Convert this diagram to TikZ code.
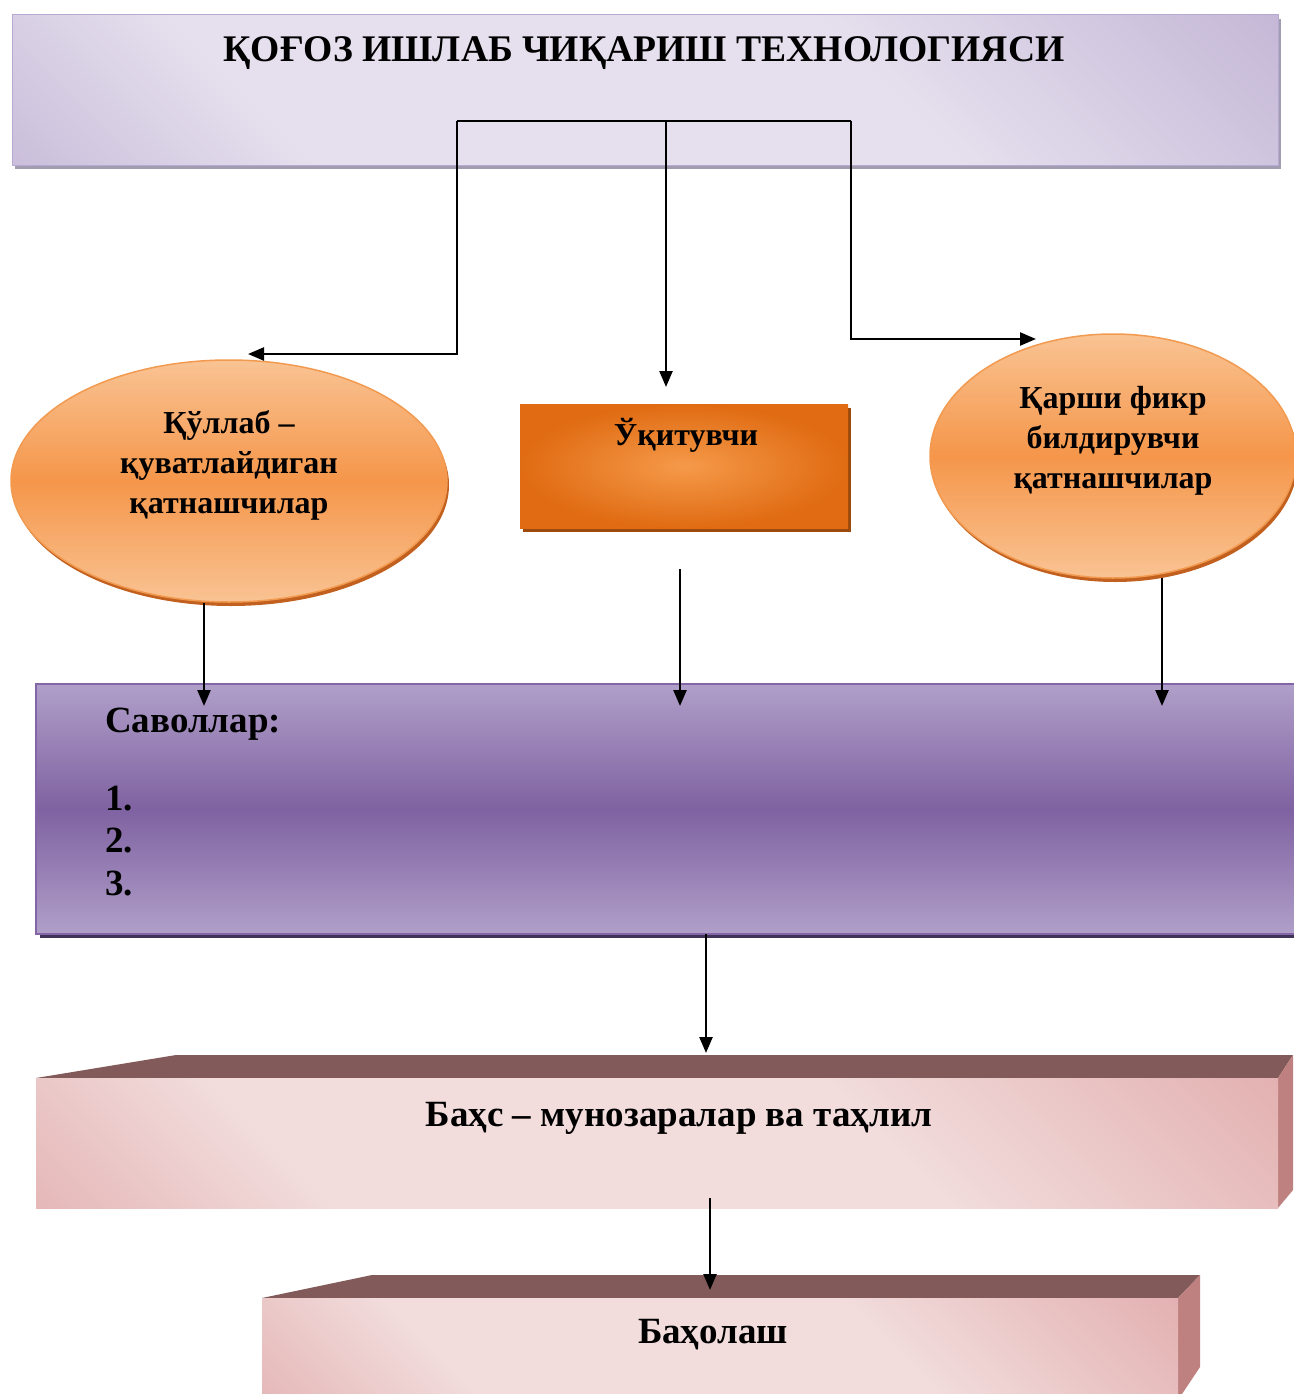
\documentclass[tikz,border=0pt]{standalone}
\usepackage{fontspec}
\setmainfont{Liberation Serif}
\usetikzlibrary{arrows.meta,shapes.geometric}
\definecolor{lavD}{HTML}{B09FC8}
\definecolor{lavL}{HTML}{E6E0EE}
\definecolor{lavB}{HTML}{B7AAD2}
\definecolor{lavS}{HTML}{A29CB0}
\definecolor{orL}{HTML}{F9C393}
\definecolor{orM}{HTML}{F5964A}
\definecolor{orB}{HTML}{F29A50}
\definecolor{orS}{HTML}{C2611F}
\definecolor{ucO}{HTML}{E06B12}
\definecolor{ucI}{HTML}{F59A4A}
\definecolor{ucS}{HTML}{9C4A0E}
\definecolor{puL}{HTML}{B09FC9}
\definecolor{puM}{HTML}{7F62A1}
\definecolor{puB}{HTML}{8466A8}
\definecolor{puS}{HTML}{3F3358}
\definecolor{pkL}{HTML}{F2DCDC}
\definecolor{pkD}{HTML}{DA9696}
\definecolor{pkTop}{HTML}{835A5A}
\definecolor{pkSide}{HTML}{BF8080}
\pgfdeclarehorizontalshading{lavshade}{100bp}{color(0bp)=(lavD); color(30bp)=(lavL); color(62bp)=(lavL); color(100bp)=(lavD)}
\pgfdeclarehorizontalshading{pinkshade}{100bp}{color(0bp)=(pkD); color(30bp)=(pkL); color(62bp)=(pkL); color(100bp)=(pkD)}
\begin{document}
\begin{tikzpicture}[x=1pt,y=-1pt,
  arr/.style={line width=2.4pt,-{Triangle[length=16pt,width=13pt]}},
  plainline/.style={line width=2.4pt},
  ovaltxt/.style={font=\bfseries\fontsize{32}{40}\selectfont, align=center, inner sep=0pt},
  bigtxt/.style={font=\bfseries\fontsize{37}{42.5}\selectfont, inner sep=0pt},
  orval/.style={ellipse, inner sep=0pt, top color=orL, bottom color=orL, middle color=orM, draw=orB, line width=1.5pt},
  pinkface/.style={rectangle, inner sep=0pt, shading=pinkshade, shading angle=45},
]
\useasboundingbox (0,0) rectangle (1293,1394);

% title box
\fill[lavS] (15,19) rectangle (1281,169);
\node[rectangle, inner sep=0pt, minimum width=1266pt, minimum height=150pt,
      shading=lavshade, shading angle=45, draw=lavB, line width=1pt] (title) at (645,90) {};
\node[bigtxt, font=\bfseries\fontsize{37.6}{42.5}\selectfont, anchor=base] (ttl) at (644,62) {ҚОҒОЗ ИШЛАБ ЧИҚАРИШ ТЕХНОЛОГИЯСИ};

% left ellipse
\fill[orS] (231,485) ellipse [x radius=218, y radius=121];
\node[orval, minimum width=436pt, minimum height=242pt] (eL) at (229,481) {};
\node[ovaltxt, anchor=base] (eLt) at (229,513) {Қўллаб –\\қуватлайдиган\\қатнашчилар};

% center rectangle
\fill[ucS] (523,408) rectangle (851,532);
\node[rectangle, inner sep=0pt, minimum width=328pt, minimum height=124pt,
      inner color=ucI, outer color=ucO] (uq) at (684,466) {};
\node[ovaltxt, anchor=base] (uqt) at (686,445) {Ўқитувчи};

% right ellipse
\fill[orS] (1115,460) ellipse [x radius=183, y radius=122];
\node[orval, minimum width=366pt, minimum height=244pt] (eR) at (1113,456) {};
\node[ovaltxt, anchor=base] (eRt) at (1113,488) {Қарши фикр\\билдирувчи\\қатнашчилар};

% questions box
\fill[puS] (40,688) rectangle (1305,938);
\node[rectangle, inner sep=0pt, minimum width=1270pt, minimum height=250pt,
      top color=puL, bottom color=puL, middle color=puM, draw=puB, line width=1.5pt] (sav) at (671,809) {};
\node[bigtxt, anchor=base west, align=left] (savt) at (105,895) {Саволлар:\\[35.5pt]1.\\2.\\3.};

% discussion 3D box
\fill[pkTop] (36,1078) -- (176,1055) -- (1293,1055) -- (1278,1078) -- cycle;
\fill[pkSide] (1278,1078) -- (1293,1055) -- (1293,1190) -- (1278,1208) -- cycle;
\node[pinkface, minimum width=1242pt, minimum height=130pt] (bah) at (657,1143) {};
\node[bigtxt, anchor=base] (baht) at (679,1126) {Баҳс – мунозаралар ва таҳлил};

% evaluation 3D box
\fill[pkTop] (262,1298) -- (372,1275) -- (1200,1275) -- (1178,1298) -- cycle;
\fill[pkSide] (1178,1298) -- (1200,1275) -- (1200,1367) -- (1178,1400) -- cycle;
\node[pinkface, minimum width=916pt, minimum height=102pt] (baho) at (720,1349) {};
\node[bigtxt, anchor=base] (bahot) at (713,1343) {Баҳолаш};

% connector points
\coordinate (hL) at (457,121);
\coordinate (hC) at (666,121);
\coordinate (hR) at (851,121);
\coordinate (aL) at (248,354);
\coordinate (aC) at (666,387);
\coordinate (aR) at (1036,339);
\coordinate (sL) at (204,603);
\coordinate (tL) at (204,706);
\coordinate (sC) at (680,569);
\coordinate (tC) at (680,706);
\coordinate (sR) at (1162,578);
\coordinate (tR) at (1162,706);
\coordinate (sS) at (706,934);
\coordinate (tS) at (706,1053);
\coordinate (sB) at (710,1198);
\coordinate (tB) at (710,1290);

\draw[plainline] (hL) -- (hR);
\draw[arr] (hL) |- (aL);
\draw[arr] (hC) -- (aC);
\draw[arr] (hR) |- (aR);
\draw[arr] (sL) -- (tL);
\draw[arr] (sC) -- (tC);
\draw[arr] (sR) -- (tR);
\draw[arr] (sS) -- (tS);
\draw[arr] (sB) -- (tB);
\end{tikzpicture}
\end{document}
